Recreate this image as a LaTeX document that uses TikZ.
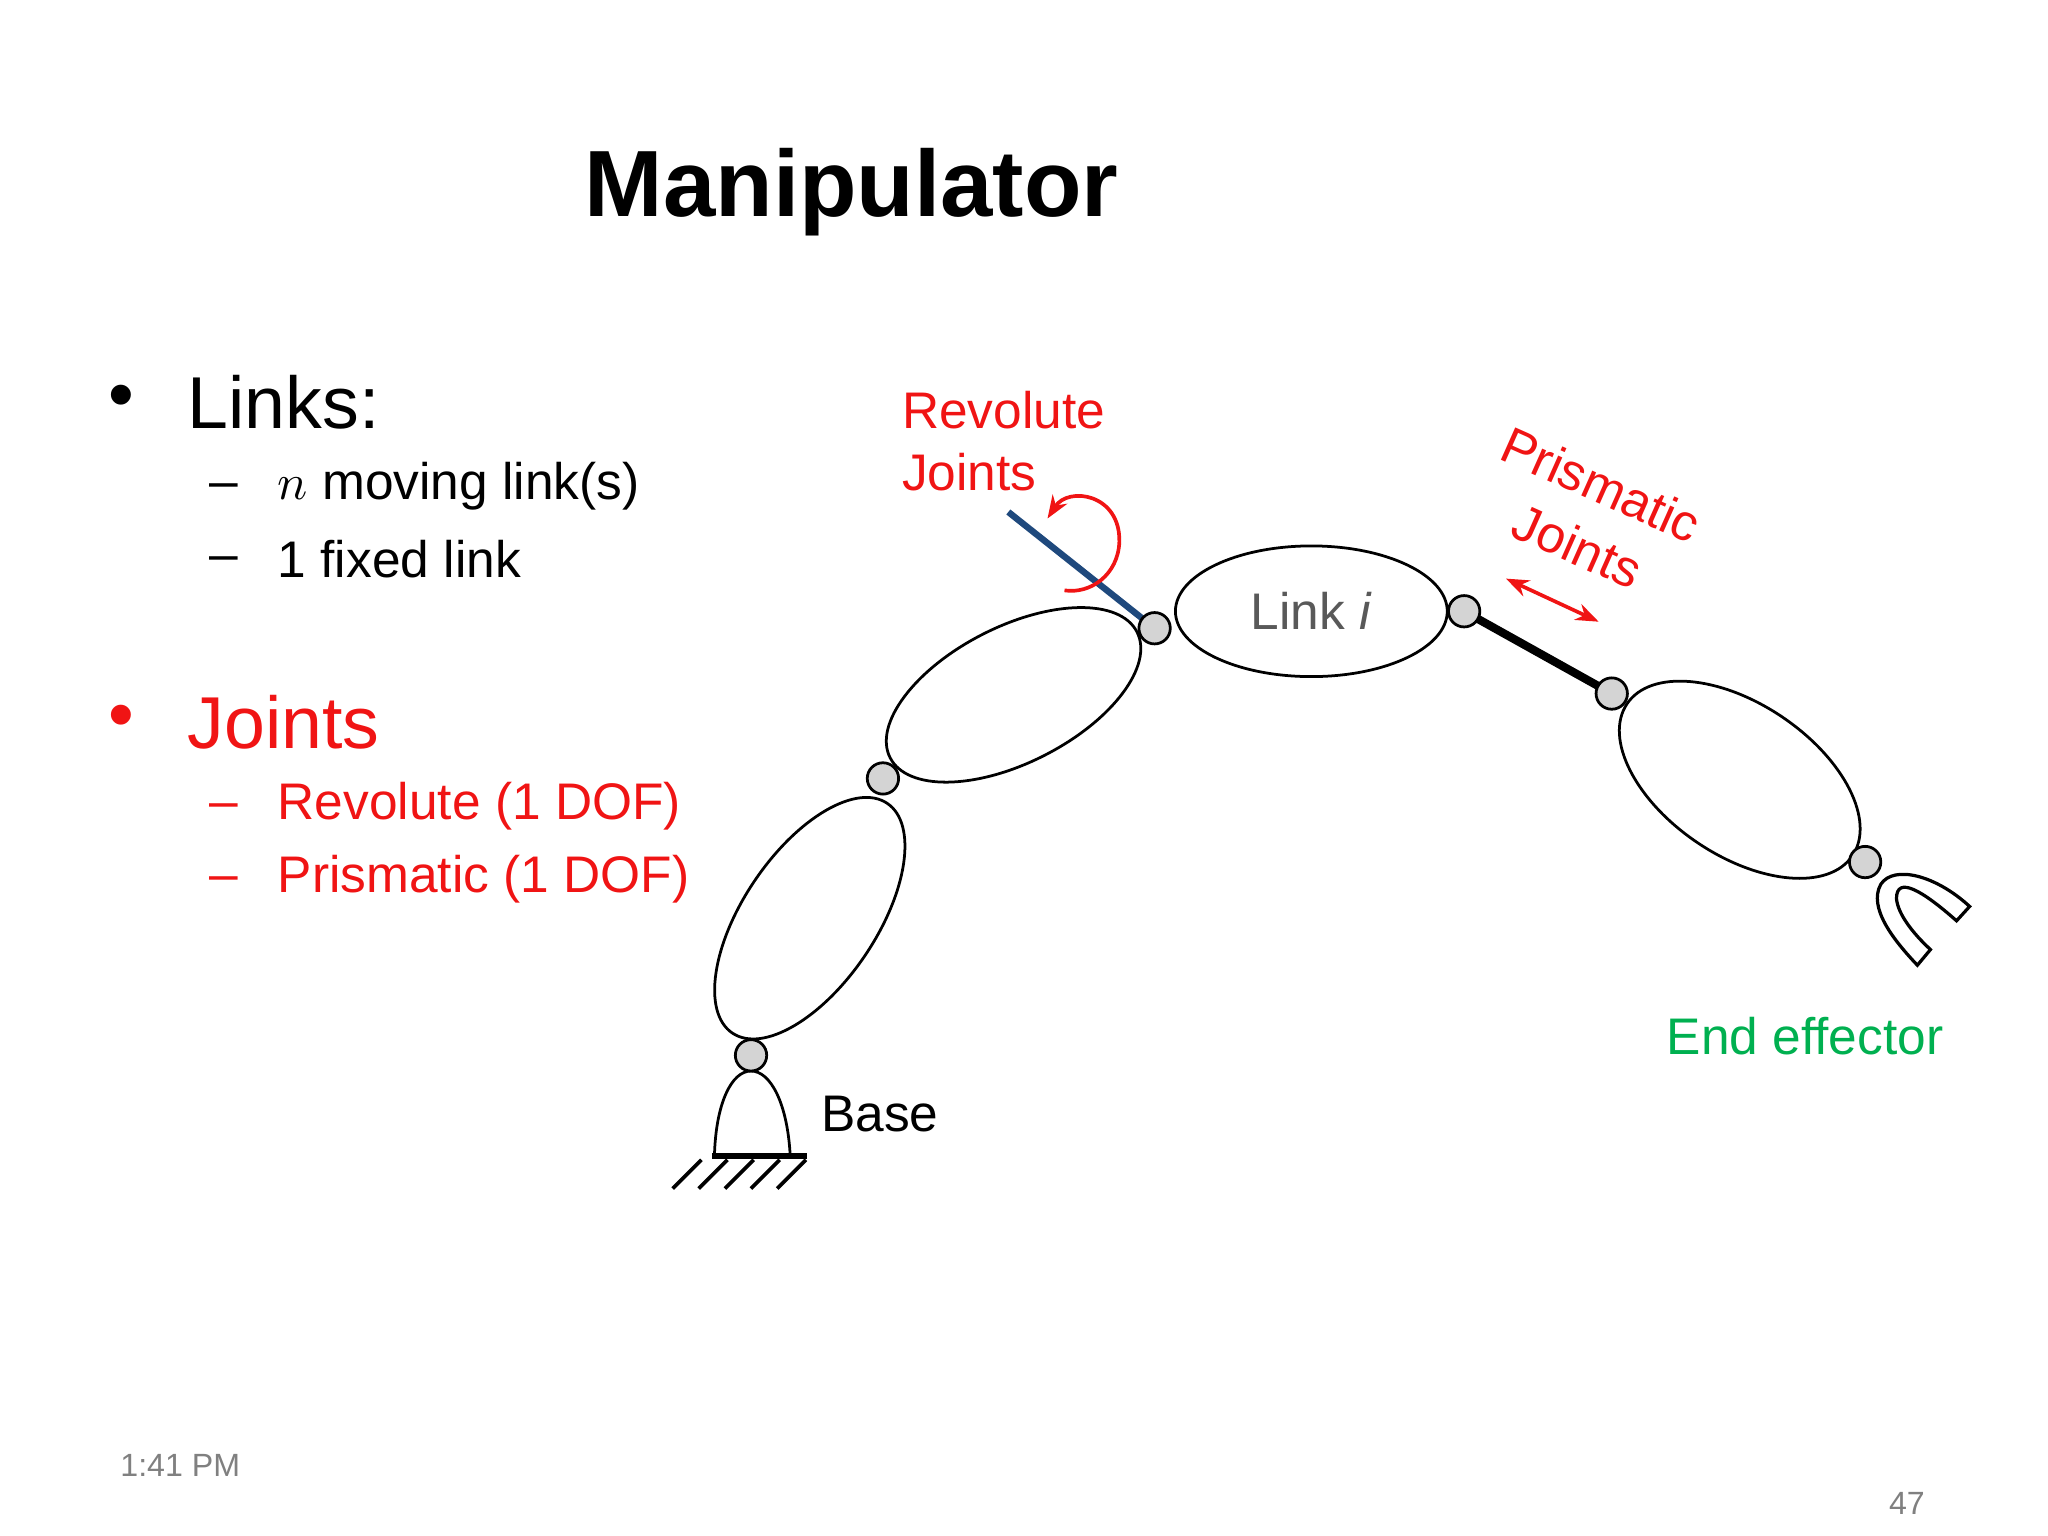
\documentclass[tikz,border=0pt]{standalone}
\usepackage{fontspec}
\setmainfont{Liberation Sans}
\usetikzlibrary{shapes.geometric,arrows.meta}
\definecolor{rd}{RGB}{240,20,20}
\definecolor{gr}{RGB}{0,176,80}
\definecolor{bl}{RGB}{31,73,125}
\begin{document}
\begin{tikzpicture}[x=0.01cm,y=-0.01cm,
 lnk/.style={draw,ellipse,line width=0.6pt,inner sep=0pt},
 jt/.style={draw,circle,fill=black!17,minimum size=0.24cm,inner sep=0pt,line width=0.6pt},
 t/.style={anchor=west,inner sep=0pt,font=\fontsize{11.2}{13.5}\selectfont}]
\useasboundingbox (0,0) rectangle (1568,1176);
\node[font=\fontsize{20.5}{24}\selectfont\bfseries] (title) at (652,147) {Manipulator};
\node[font=\fontsize{16}{19}\selectfont] (b1) at (93,308) {•};
\node[t,font=\fontsize{16}{19}\selectfont] (links) at (143,308) {Links:};
\node[t] (d1) at (160,376) {–};
\node[t] (s1) at (212,372) {$n$ moving link(s)};
\node[t] (d2) at (160,432) {–};
\node[t] (s2) at (212,428) {1 fixed link};
\node[font=\fontsize{16}{19}\selectfont,text=rd] (b2) at (93,553) {•};
\node[t,font=\fontsize{16}{19}\selectfont,text=rd] (joints) at (143,553) {Joints};
\node[t,text=rd] (d3) at (160,621) {–};
\node[t,text=rd] (s3) at (212,617) {Revolute (1 DOF)};
\node[t,text=rd] (d4) at (160,677) {–};
\node[t,text=rd] (s4) at (212,673) {Prismatic (1 DOF)};
% links
\node[lnk,minimum width=2.12cm,minimum height=1.02cm,rotate=56] (L1) at (620,703) {};
\node[lnk,minimum width=2.12cm,minimum height=1.04cm,rotate=27] (L2) at (776,532) {};
\node[lnk,minimum width=2.08cm,minimum height=1.00cm,font=\fontsize{11.2}{13.5}\selectfont,text=black!65] (Li) at (1004,468) {Link \textit{i}};
\node[lnk,minimum width=2.08cm,minimum height=1.16cm,rotate=-34] (L4) at (1332,597) {};
% base
\draw[line width=0.6pt] (547,885) .. controls (548,845) and (560,820) .. (575,820) .. controls (590,820) and (603,845) .. (605,885);
\draw[line width=1.4pt] (545,885) -- (618,885);
\foreach \x in {537,557,577,597,617} \draw[line width=0.8pt] (\x,888) -- (\x-22,910);
\node[t] (base) at (628,853) {Base};
% prismatic bar
\coordinate (p1) at (1121,468);
\coordinate (p2) at (1234,531);
\draw[line width=1.8pt] (p1) -- (p2);
% revolute pointer
\coordinate (r0) at (772,392);
\coordinate (r1) at (884,481);
\draw[bl,line width=1.4pt] (r0) -- (r1);
\draw[rd,line width=0.8pt,{Stealth[length=5pt]}-] (802,397) .. controls (818,372) and (858,378) .. (857,415) .. controls (856,440) and (835,455) .. (815,452);
% joints
\node[jt] (j1) at (575,808) {};
\node[jt] (j2) at (676,596) {};
\node[jt] (j3) at (884,481) {};
\node[jt] (j4) at (1121,468) {};
\node[jt] (j5) at (1234,531) {};
\node[jt] (j6) at (1428,660) {};
% gripper
\draw[line width=0.7pt] (1508,694) -- (1498,705) .. controls (1472,682) and (1452,670) .. (1452,688) .. controls (1453,700) and (1465,715) .. (1478,727) -- (1468,739) .. controls (1450,720) and (1430,695) .. (1440,677) .. controls (1450,662) and (1482,670) .. (1508,694) -- cycle;
% labels
\node[t,text=rd,align=left] (rj) at (690,338) {Revolute\\Joints};
\node[text=rd,font=\fontsize{11.2}{13.5}\selectfont,rotate=-24,inner sep=0pt] (pm) at (1226,371) {Prismatic};
\node[text=rd,font=\fontsize{11.2}{13.5}\selectfont,rotate=-24,inner sep=0pt] (pj) at (1208,418) {Joints};
\coordinate (a1) at (1153,443);
\coordinate (a2) at (1224,476);
\draw[rd,line width=0.8pt,{Stealth[length=5pt]}-{Stealth[length=5pt]}] (a1) -- (a2);
\node[text=gr,font=\fontsize{11.2}{13.5}\selectfont] (ee) at (1382,793) {End effector};
\node[text=black!50,font=\fontsize{7}{8}\selectfont] (tm) at (138,1122) {1:41 PM};
\node[text=black!50,font=\fontsize{7}{8}\selectfont] (pg) at (1460,1151) {47};
\end{tikzpicture}
\end{document}
